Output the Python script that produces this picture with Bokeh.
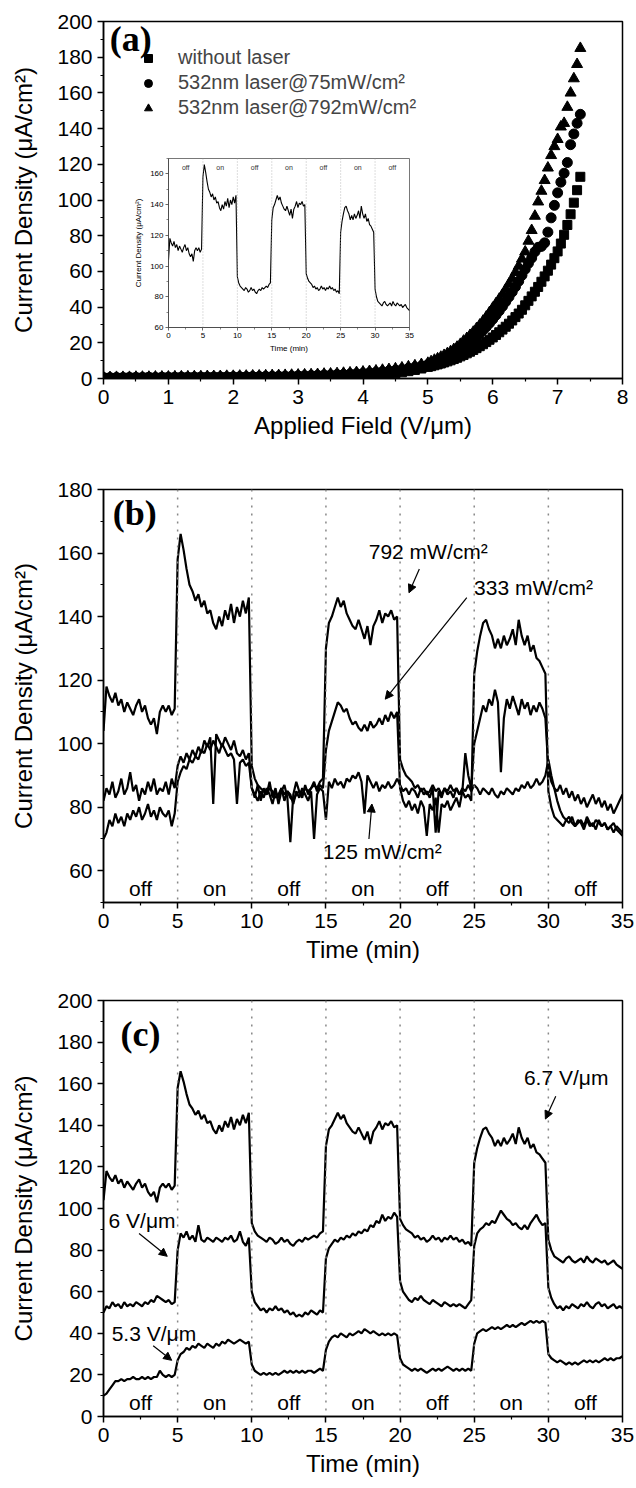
from bokeh.plotting import figure
from bokeh.models import (GridBox, Legend, LegendItem, Label, Arrow, NormalHead,
                          Span, ColumnDataSource, FixedTicker, Range1d)
from bokeh.embed import file_html
from bokeh.resources import INLINE
from bokeh.core.properties import value

FONT = "Liberation Sans"
SERIF = "Liberation Serif"

# ---------------- data: panel (a) ----------------
FIELD = [round(i * 0.1, 2) for i in range(51)] + [round(5.05 + i * 0.05, 2) for i in range(47)]
J_DARK = [0.3, 0.3, 0.3, 0.3, 0.4, 0.3, 0.4, 0.4, 0.3, 0.4, 0.4, 0.4, 0.4, 0.5, 0.4, 0.5, 0.5, 0.5, 0.5, 0.6,
          0.5, 0.6, 0.6, 0.6, 0.7, 0.6, 0.7, 0.7, 0.7, 0.8, 0.8,
          0.8, 0.9, 0.9, 1.0, 1.0, 1.1, 1.2, 1.2, 1.3, 1.4,
          1.6, 1.9, 2.2, 2.6, 3.0, 3.5, 4.1, 4.8, 5.6, 6.5,
          6.9, 7.4, 7.9, 8.4, 9.0, 9.6, 10.2, 10.9, 11.6, 12.4,
          13.2, 14.1, 15.0, 16.0, 17.0, 18.1, 19.2, 20.4, 21.7, 23.0,
          24.4, 25.9, 27.4, 29.0, 30.7, 32.5, 34.4, 36.4, 38.5, 41.0,
          43.5, 46.0, 48.6, 51.3, 54.2, 57.2, 60.4, 63.8, 67.4, 71.2,
          75.6, 80.5, 86.0, 92.0, 98.5, 105.5, 113.0]
J_75 = [0.5, 0.5, 0.6, 0.5, 0.6, 0.6, 0.6, 0.7, 0.6, 0.7, 0.7, 0.7, 0.8, 0.7, 0.8, 0.8, 0.8, 0.9, 0.9, 0.9,
        1.0, 1.0, 1.0, 1.1, 1.1, 1.2, 1.2, 1.3, 1.3, 1.4, 1.5,
        1.6, 1.7, 1.8, 1.9, 2.0, 2.2, 2.3, 2.5, 2.7, 2.9,
        3.2, 3.5, 3.8, 4.2, 4.6, 5.1, 5.7, 6.3, 7.0, 7.8,
        8.5, 9.2, 9.9, 10.7, 11.5, 12.4, 13.3, 14.3, 15.4, 16.5,
        17.7, 19.0, 20.4, 21.9, 23.5, 25.2, 27.0, 28.9, 31.0, 33.2,
        35.5, 37.9, 40.4, 43.0, 45.7, 48.5, 51.4, 54.5, 57.8, 61.2,
        64.5, 67.5, 71.0, 73.5, 74.0, 76.0, 82.0, 90.0, 97.0, 104.0,
        110.0, 115.0, 121.0, 131.0, 137.0, 143.0, 148.0]
J_792 = [0.6, 0.6, 0.7, 0.7, 0.7, 0.8, 0.8, 0.8, 0.9, 0.9, 0.9, 1.0, 1.0, 1.0, 1.1, 1.1, 1.2, 1.2, 1.2, 1.3,
         1.3, 1.4, 1.4, 1.5, 1.5, 1.6, 1.7, 1.7, 1.8, 1.9, 2.0,
         2.1, 2.2, 2.3, 2.5, 2.6, 2.8, 3.0, 3.2, 3.4, 3.7,
         4.0, 4.3, 4.7, 5.1, 5.5, 6.0, 6.6, 7.2, 7.9, 8.6,
         9.5, 10.3, 11.1, 12.0, 13.0, 14.0, 15.1, 16.3, 17.6, 19.2,
         21.0, 22.5, 24.2, 26.0, 28.0, 30.0, 32.2, 34.5, 37.0, 39.5,
         42.0, 44.5, 47.0, 50.0, 53.0, 56.0, 59.5, 63.0, 67.0, 71.0,
         77.0, 83.0, 91.0, 99.0, 105.0, 111.0, 118.0, 125.0, 130.0, 134.0,
         141.0, 143.0, 152.0, 160.0, 168.0, 176.0, 185.0]
LEGEND_A = ["without laser", "532nm laser@75mW/cm\u00b2", "532nm laser@792mW/cm\u00b2"]

# ---------------- data: time traces (b), (c), inset ----------------
TIME = [round(i * 0.2, 1) for i in range(176)]
J_792_T = [104, 118, 115, 113, 116, 112, 114, 110, 113, 111, 109, 112, 114, 110, 112, 108, 106, 108, 103, 110, 112, 110, 112, 109, 111,
           158, 166, 161, 155, 150, 148, 145, 147, 143, 145, 141, 142, 138, 136, 140, 137, 142, 139, 144, 138, 143, 140, 145, 141, 146,
           93, 89, 87, 86, 85, 84, 86, 85, 83, 84, 86, 84, 85, 83, 82, 84, 85, 84, 86, 85, 86, 87, 86, 88, 89,
           130, 138, 140, 143, 146, 143, 145, 141, 139, 137, 136, 139, 136, 133, 137, 131, 137, 139, 142, 138, 141, 140, 142, 139, 140,
           95, 92, 90, 89, 88, 86, 87, 85, 86, 84, 85, 87, 85, 86, 84, 86, 85, 87, 85, 86, 84, 85, 83, 84, 82,
           122, 129, 134, 138, 139, 136, 134, 130, 133, 130, 134, 131, 133, 136, 131, 139, 134, 131, 134, 129, 131, 127, 126, 124, 122,
           85, 80, 77, 76, 75, 74, 76, 77, 75, 74, 75, 76, 74, 77, 75, 74, 76, 75, 74, 75, 73, 74, 75, 73, 72, 71]
J_333_T = [82, 86, 84, 88, 83, 85, 89, 84, 86, 91, 85, 87, 82, 86, 84, 88, 85, 89, 84, 86, 85, 88, 84, 89, 86,
           93, 96, 94, 97, 95, 98, 96, 99, 97, 101, 99, 102, 81, 103, 101, 99, 102, 100, 98, 101, 97, 96, 98, 95, 97,
           86, 83, 87, 82, 86, 84, 88, 83, 86, 81, 85, 87, 83, 69, 84, 88, 85, 83, 87, 84, 86, 88, 85, 87, 86,
           98, 104, 107, 110, 113, 112, 110, 111, 108, 106, 107, 105, 104, 106, 104, 107, 105, 106, 108, 106, 109, 107, 110, 108, 110,
           86, 82, 80, 82, 79, 81, 78, 82, 80, 71, 81, 79, 83, 72, 81, 80, 82, 79, 81, 83, 80, 85, 97, 90, 86,
           100, 104, 108, 112, 110, 114, 112, 117, 113, 91, 108, 114, 111, 115, 112, 109, 114, 111, 113, 109, 112, 110, 113, 111, 108,
           92, 88, 86, 85, 87, 84, 86, 83, 85, 82, 84, 81, 83, 80, 82, 84, 81, 83, 80, 82, 79, 81, 78, 80, 82, 84]
J_125_T = [70, 72, 76, 74, 78, 75, 77, 74, 78, 76, 79, 77, 80, 76, 78, 81, 77, 79, 76, 80, 78, 77, 79, 74, 78,
           88, 91, 93, 92, 95, 94, 96, 95, 98, 97, 100, 98, 101, 99, 97, 100, 98, 96, 97, 95, 81, 94, 95, 93, 94,
           86, 84, 82, 85, 83, 86, 84, 81, 85, 83, 86, 82, 85, 84, 81, 85, 83, 86, 84, 82, 85, 70, 84, 86, 85,
           76, 88, 86, 89, 87, 88, 86, 89, 88, 90, 89, 91, 88, 78, 90, 88, 86, 88, 85, 87, 86, 88, 86, 87, 89,
           87, 85, 86, 84, 86, 85, 83, 86, 84, 85, 83, 86, 72, 85, 83, 86, 84, 85, 83, 86, 84, 86, 85, 87, 85,
           87, 86, 84, 86, 85, 84, 86, 84, 83, 85, 84, 86, 85, 84, 86, 85, 87, 86, 88, 86, 87, 89, 87, 88, 90,
           95, 90, 86, 82, 79, 77, 76, 75, 77, 74, 76, 75, 73, 76, 74, 75, 73, 76, 74, 75, 73, 74, 72, 74, 73, 72]
J_6V_T = [50, 53, 52, 55, 53, 54, 52, 55, 53, 54, 53, 55, 54, 53, 55, 54, 56, 55, 58, 57, 56, 55, 56, 54, 55,
          80, 88, 86, 89, 85, 87, 84, 92, 85, 84, 86, 85, 84, 86, 85, 84, 86, 85, 87, 84, 85, 89, 84, 82, 86,
          60, 55, 53, 51, 52, 50, 52, 51, 53, 51, 52, 50, 51, 49, 50, 48, 49, 48, 50, 49, 51, 50, 49, 51, 50,
          76, 81, 83, 85, 84, 86, 85, 87, 86, 88, 87, 89, 88, 90, 89, 92, 91, 94, 93, 97, 94, 96, 95, 98, 96,
          65, 60, 58, 56, 55, 57, 56, 58, 56, 55, 54, 56, 55, 54, 53, 55, 54, 53, 54, 53, 54, 53, 52, 54, 56,
          82, 88, 90, 91, 93, 92, 94, 93, 96, 99, 97, 95, 94, 92, 93, 91, 90, 92, 90, 93, 95, 97, 94, 92, 93,
          62, 57, 54, 52, 53, 51, 53, 52, 54, 53, 52, 54, 53, 55, 53, 52, 54, 55, 53, 54, 52, 53, 54, 52, 53, 52]
J_53V_T = [10, 11, 13, 15, 17, 17, 18, 17, 18, 18, 19, 18, 18, 19, 18, 19, 18, 19, 19, 22, 20, 19, 20, 19, 20,
           27, 30, 31, 33, 32, 34, 33, 35, 34, 33, 35, 34, 33, 35, 34, 36, 35, 37, 36, 35, 36, 37, 36, 35, 36,
           25, 22, 21, 20, 21, 20, 21, 20, 21, 20, 21, 22, 21, 22, 21, 22, 21, 22, 21, 22, 22, 21, 22, 23, 22,
           32, 36, 38, 39, 38, 40, 39, 38, 40, 39, 40, 41, 40, 42, 41, 40, 41, 40, 39, 40, 39, 40, 39, 40, 39,
           28, 25, 24, 23, 22, 23, 22, 23, 22, 21, 22, 23, 22, 23, 22, 23, 24, 23, 22, 23, 22, 23, 22, 23, 22,
           35, 40, 41, 42, 41, 42, 43, 42, 43, 42, 43, 44, 43, 44, 43, 44, 45, 44, 45, 46, 45, 46, 45, 46, 45,
           30, 28, 27, 26, 27, 26, 25, 26, 25, 26, 25, 26, 27, 26, 27, 26, 27, 26, 27, 28, 27, 28, 27, 28, 28, 29]

SWITCH_TIMES = [5, 10, 15, 20, 25, 30]
STATE_X = [2.5, 7.5, 12.5, 17.5, 22.5, 27.5, 32.5]
STATE_LABELS = ["off", "on", "off", "on", "off", "on", "off"]

# ticks
A_X_TICKS = [0, 1, 2, 3, 4, 5, 6, 7, 8]
A_X_MINOR = [0.5, 1.5, 2.5, 3.5, 4.5, 5.5, 6.5, 7.5]
A_Y_TICKS = [0, 20, 40, 60, 80, 100, 120, 140, 160, 180, 200]
A_Y_MINOR = [10, 30, 50, 70, 90, 110, 130, 150, 170, 190]
T_TICKS = [0, 5, 10, 15, 20, 25, 30, 35]
T_MINOR = [2.5, 7.5, 12.5, 17.5, 22.5, 27.5, 32.5]
B_Y_TICKS = [60, 80, 100, 120, 140, 160, 180]
B_Y_MINOR = [50, 70, 90, 110, 130, 150, 170]
C_Y_TICKS = [0, 20, 40, 60, 80, 100, 120, 140, 160, 180, 200]
C_Y_MINOR = [10, 30, 50, 70, 90, 110, 130, 150, 170, 190]
IN_Y_TICKS = [60, 80, 100, 120, 140, 160]
IN_Y_MINOR = [70, 90, 110, 130, 150, 170]

Y_TITLE = "Current Density (\u03bcA/cm\u00b2)"


def make_fig(xr, yr, fw, fh, top, bottom, left=103, right=14, margin=None):
    p = figure(x_range=Range1d(*xr), y_range=Range1d(*yr), frame_width=fw, frame_height=fh,
               min_border_top=top, min_border_bottom=bottom, min_border_left=left,
               min_border_right=right, output_backend="svg", toolbar_location=None,
               margin=margin)
    p.grid.visible = False
    p.outline_line_color = "black"
    p.outline_line_width = 1.5
    p.outline_line_alpha = 1.0
    p.background_fill_color = "white"
    p.border_fill_color = "white"
    return p


def style_axes(p, xt, xm, yt, ym, xlabel, ylabel, tick_px="21px", title_px="24px",
               lw=1.5, tout=6, mout=3, color="black", ystand=17):
    p.xaxis.ticker = FixedTicker(ticks=xt, minor_ticks=xm)
    p.yaxis.ticker = FixedTicker(ticks=yt, minor_ticks=ym)
    p.xaxis.axis_label = xlabel
    p.yaxis.axis_label = ylabel
    for ax in (p.xaxis[0], p.yaxis[0]):
        ax.axis_line_width = lw
        ax.axis_line_color = color
        ax.major_tick_line_width = lw
        ax.minor_tick_line_width = lw * 0.8
        ax.major_tick_line_color = color
        ax.minor_tick_line_color = color
        ax.major_tick_out = tout
        ax.major_tick_in = 0
        ax.minor_tick_out = mout
        ax.minor_tick_in = 0
        ax.major_label_text_font = FONT
        ax.major_label_text_font_size = tick_px
        ax.major_label_text_color = "black"
        ax.axis_label_text_font = FONT
        ax.axis_label_text_font_size = title_px
        ax.axis_label_text_font_style = "normal"
        ax.axis_label_text_color = "black"
    p.yaxis[0].axis_label_standoff = ystand


def add_switch_lines(p, color="#888888", dash="2 6", width=1.5):
    for t in SWITCH_TIMES:
        p.add_layout(Span(location=t, dimension="height", line_color=color,
                          line_dash=dash, line_width=width))


def add_states(p, y, size="21px", color="black"):
    src = ColumnDataSource(dict(x=STATE_X, y=[y] * len(STATE_X), t=STATE_LABELS))
    p.text(x="x", y="y", text="t", source=src, text_font=value(FONT), text_font_size=size,
           text_align="center", text_baseline="middle", text_color=color)


def add_note(p, x, y, txt, size="21px", font=FONT, style="normal", align="center"):
    p.add_layout(Label(x=x, y=y, text=txt, text_font=font, text_font_size=size,
                       text_font_style=style, text_align=align, text_baseline="middle",
                       text_color="black"))


def add_arrow(p, x0, y0, x1, y1):
    p.add_layout(Arrow(end=NormalHead(size=8, fill_color="black", line_color="black", line_width=1),
                       x_start=x0, y_start=y0, x_end=x1, y_end=y1,
                       line_color="black", line_width=1.2))


# ---------------- panel (a) ----------------
pa = make_fig((0, 8), (0, 200), 519, 357, top=21, bottom=92)
style_axes(pa, A_X_TICKS, A_X_MINOR, A_Y_TICKS, A_Y_MINOR, "Applied Field (V/\u03bcm)", Y_TITLE)
r_sq = pa.scatter(FIELD, J_DARK, marker="square", size=9, color="black")
r_ci = pa.scatter(FIELD, J_75, marker="circle", size=10, color="black")
r_tr = pa.scatter(FIELD, J_792, marker="triangle", size=11, color="black")
leg = Legend(items=[LegendItem(label=LEGEND_A[0], renderers=[r_sq]),
                    LegendItem(label=LEGEND_A[1], renderers=[r_ci]),
                    LegendItem(label=LEGEND_A[2], renderers=[r_tr])],
             location=(35, 259), padding=0, margin=0, spacing=2, glyph_width=20, glyph_height=20,
             label_standoff=20, label_text_font=FONT, label_text_font_size="20px",
             border_line_color=None, background_fill_alpha=0)
pa.add_layout(leg)
add_note(pa, 0.42, 190, "(a)", size="36px", font=SERIF, style="bold")

# ---------------- inset in (a): overlaid in the same grid cell ----------------
# the grid aligns plot borders per row/column, so the inset keeps the same borders
# as panel (a) and is shifted into place with a margin
pin = make_fig((0, 35), (60, 170), 241, 169, top=21, bottom=92, left=103, right=14,
               margin=(137, 0, 0, 65))
pin.outline_line_color = "#555555"
pin.outline_line_width = 0.8
pin.border_fill_color = None
style_axes(pin, T_TICKS, T_MINOR, IN_Y_TICKS, IN_Y_MINOR, "Time (min)", Y_TITLE,
           tick_px="8px", title_px="8px", lw=0.8, tout=3, mout=2, color="#444444", ystand=4)
for ax in (pin.xaxis[0], pin.yaxis[0]):
    ax.major_label_standoff = 2
pin.xaxis[0].axis_label_standoff = 3
add_switch_lines(pin, color="#aaaaaa", dash="1 2", width=0.8)
pin.line(TIME, J_792_T, line_color="black", line_width=1.1)
add_states(pin, 164, size="7px", color="#333333")

# ---------------- panel (b) ----------------
pb = make_fig((0, 35), (50, 180), 519, 413, top=19, bottom=83)
style_axes(pb, T_TICKS, T_MINOR, B_Y_TICKS, B_Y_MINOR, "Time (min)", Y_TITLE)
add_switch_lines(pb)
for series in (J_125_T, J_333_T, J_792_T):
    pb.line(TIME, series, line_color="black", line_width=2.2)
add_states(pb, 54.5)
add_note(pb, 2.1, 172.5, "(b)", size="36px", font=SERIF, style="bold")
add_note(pb, 21.9, 160.5, "792 mW/cm\u00b2")
add_arrow(pb, 21.3, 155, 20.6, 147.5)
add_note(pb, 29.0, 149, "333 mW/cm\u00b2")
add_arrow(pb, 24.5, 146, 19.0, 114)
add_note(pb, 18.8, 66, "125 mW/cm\u00b2")
add_arrow(pb, 17.9, 70, 18.1, 81)

# ---------------- panel (c) ----------------
pc = make_fig((0, 35), (0, 200), 519, 416, top=15, bottom=72)
style_axes(pc, T_TICKS, T_MINOR, C_Y_TICKS, C_Y_MINOR, "Time (min)", Y_TITLE)
add_switch_lines(pc)
for series in (J_53V_T, J_6V_T, J_792_T):
    pc.line(TIME, series, line_color="black", line_width=2.2)
add_states(pc, 6.5)
add_note(pc, 2.5, 184, "(c)", size="36px", font=SERIF, style="bold")
add_note(pc, 31.2, 163, "6.7 V/\u03bcm")
add_arrow(pc, 30.5, 154, 29.8, 143)
add_note(pc, 2.6, 94, "6 V/\u03bcm")
add_arrow(pc, 2.4, 88, 4.3, 77)
add_note(pc, 3.4, 40, "5.3 V/\u03bcm")
add_arrow(pc, 3.35, 34, 4.6, 27)

root = GridBox(children=[(pa, 0, 0), (pin, 0, 0), (pb, 1, 0), (pc, 2, 0)], spacing=0)

with open("out.html", "w") as f:
    f.write(file_html(root, INLINE))
